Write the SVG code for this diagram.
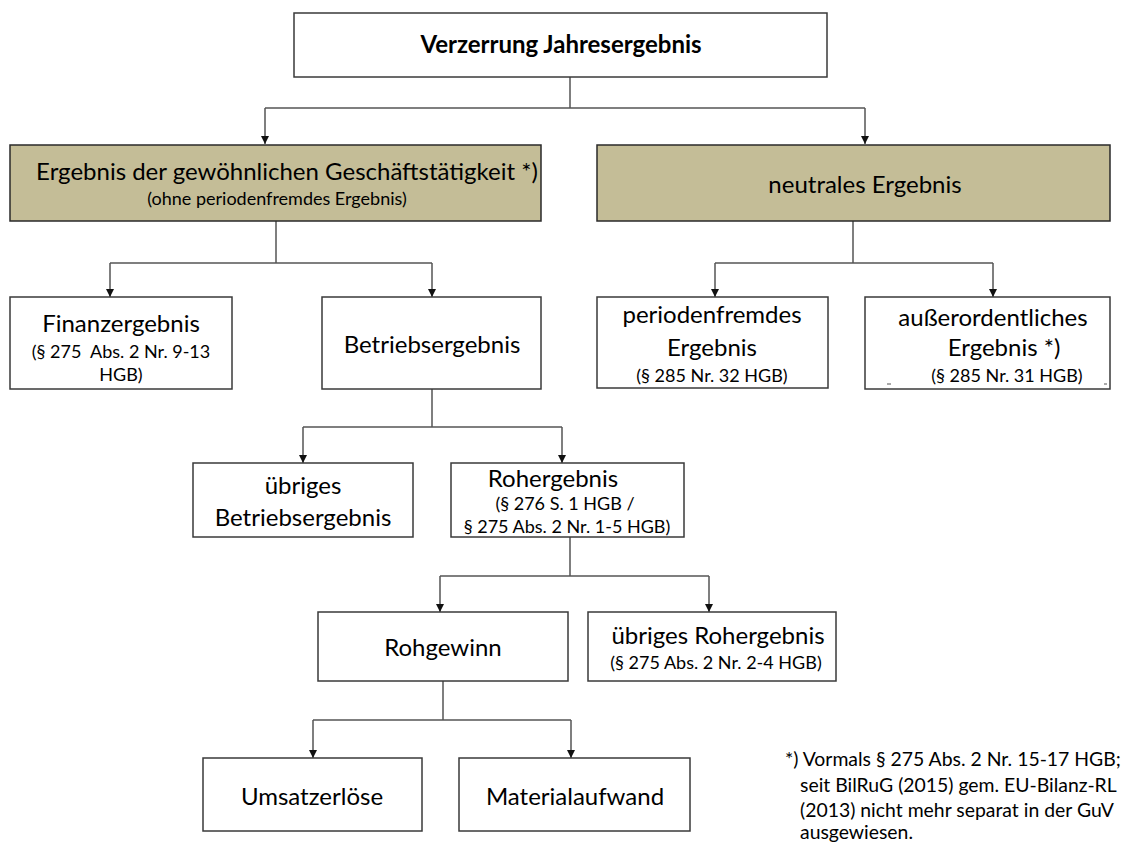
<svg xmlns="http://www.w3.org/2000/svg" width="1126" height="843" viewBox="0 0 1126 843">
  <style>
    .box { fill: #ffffff; stroke: #3a3a3a; stroke-width: 1.5; }
    .tan { fill: #c4bd97; stroke: #2a2a2a; stroke-width: 1.5; }
    .link { fill: none; stroke: #555555; stroke-width: 1.5; marker-end: url(#arrow); }
    .trunk { fill: none; stroke: #555555; stroke-width: 1.5; }
    text { font-family: Lato, "Open Sans", "Liberation Sans", sans-serif; fill: #000000; text-anchor: middle; }
    .big { font-size: 24px; }
    .small { font-size: 18px; }
    .head { font-size: 24px; font-weight: bold; }
    .note { font-size: 19.4px; text-anchor: start; }
    .pre { white-space: pre; }
  </style>
  <defs>
    <marker id="arrow" viewBox="0 0 10 10" refX="10" refY="5" markerWidth="8" markerHeight="8" markerUnits="userSpaceOnUse" orient="auto">
      <path d="M0,0 L10,5 L0,10 z" fill="#111111"/>
    </marker>
  </defs>
  <rect width="1126" height="843" fill="#ffffff"/>

  <g id="connectors">
    <!-- top level split -->
    <path class="trunk" d="M570,77 V108 M265,108 H865"/>
    <path class="link" d="M265,108 V144"/>
    <path class="link" d="M865,108 V144"/>
    <!-- ordinary result split -->
    <path class="trunk" d="M276,221 V263 M110,263 H432"/>
    <path class="link" d="M110,263 V297"/>
    <path class="link" d="M432,263 V297"/>
    <!-- neutral result split -->
    <path class="trunk" d="M853,221 V263 M715,263 H993"/>
    <path class="link" d="M715,263 V297"/>
    <path class="link" d="M993,263 V297"/>
    <!-- operating result split -->
    <path class="trunk" d="M432,389 V427 M303,427 H562"/>
    <path class="link" d="M303,427 V463"/>
    <path class="link" d="M562,427 V463"/>
    <!-- gross result split -->
    <path class="trunk" d="M570,537 V576 M440,576 H709"/>
    <path class="link" d="M440,576 V612"/>
    <path class="link" d="M709,576 V612"/>
    <!-- gross profit split -->
    <path class="trunk" d="M443,681 V720 M313,720 H571"/>
    <path class="link" d="M313,720 V758"/>
    <path class="link" d="M571,720 V758"/>
  </g>

  <g id="verzerrung">
    <rect class="box" x="294" y="13" width="533" height="64"/>
    <text class="head" x="561" y="53">Verzerrung Jahresergebnis</text>
  </g>

  <g id="gewoehnlich">
    <rect class="tan" x="10" y="145" width="531" height="76"/>
    <text class="big" x="287" y="180">Ergebnis der gewöhnlichen Geschäftstätigkeit *)</text>
    <text class="small" x="277" y="205">(ohne periodenfremdes Ergebnis)</text>
  </g>

  <g id="neutral">
    <rect class="tan" x="597" y="145" width="513" height="76"/>
    <text class="big" x="865" y="193">neutrales Ergebnis</text>
  </g>

  <g id="finanz">
    <rect class="box" x="10" y="297" width="222" height="92"/>
    <text class="big" x="121" y="332">Finanzergebnis</text>
    <text class="small pre" x="121" y="358">(§ 275  Abs. 2 Nr. 9-13</text>
    <text class="small" x="121" y="381">HGB)</text>
  </g>

  <g id="betrieb">
    <rect class="box" x="322" y="297" width="219" height="92"/>
    <text class="big" x="432" y="353">Betriebsergebnis</text>
  </g>

  <g id="periodenfremd">
    <rect class="box" x="597" y="297" width="231" height="91"/>
    <text class="big" x="712" y="323">periodenfremdes</text>
    <text class="big" x="712" y="356">Ergebnis</text>
    <text class="small" x="712" y="382">(§ 285 Nr. 32 HGB)</text>
  </g>

  <g id="ausserordentlich">
    <rect class="box" x="865" y="297" width="245" height="92"/>
    <text class="big" x="993" y="326">außerordentliches</text>
    <text class="big" x="1004" y="356">Ergebnis *)</text>
    <text class="small" x="1007" y="382">(§ 285 Nr. 31 HGB)</text>
    <path d="M887,384 h4 M1104,384 h3" stroke="#555555" stroke-width="1"/>
  </g>

  <g id="uebriges-betrieb">
    <rect class="box" x="193" y="463" width="220" height="74"/>
    <text class="big" x="303" y="494">übriges</text>
    <text class="big" x="303" y="526">Betriebsergebnis</text>
  </g>

  <g id="roh">
    <rect class="box" x="451" y="463" width="233" height="74"/>
    <text class="big" x="553" y="487">Rohergebnis</text>
    <text class="small" x="565" y="510">(§ 276 S. 1 HGB /</text>
    <text class="small" x="567" y="533">§ 275 Abs. 2 Nr. 1-5 HGB)</text>
  </g>

  <g id="rohgewinn">
    <rect class="box" x="318" y="612" width="250" height="69"/>
    <text class="big" x="443" y="656">Rohgewinn</text>
  </g>

  <g id="uebriges-roh">
    <rect class="box" x="588" y="612" width="248" height="69"/>
    <text class="big" x="718" y="644">übriges Rohergebnis</text>
    <text class="small" x="716" y="669">(§ 275 Abs. 2 Nr. 2-4 HGB)</text>
  </g>

  <g id="umsatz">
    <rect class="box" x="203" y="758" width="219" height="73"/>
    <text class="big" x="312" y="805">Umsatzerlöse</text>
  </g>

  <g id="material">
    <rect class="box" x="459" y="758" width="231" height="73"/>
    <text class="big" x="575" y="805">Materialaufwand</text>
  </g>

  <g id="fussnote">
    <text class="note" x="785" y="766">*) Vormals § 275 Abs. 2 Nr. 15-17 HGB;</text>
    <text class="note" x="800" y="792">seit BilRuG (2015) gem. EU-Bilanz-RL</text>
    <text class="note" x="800" y="817">(2013) nicht mehr separat in der GuV</text>
    <text class="note" x="800" y="839">ausgewiesen.</text>
  </g>
</svg>
